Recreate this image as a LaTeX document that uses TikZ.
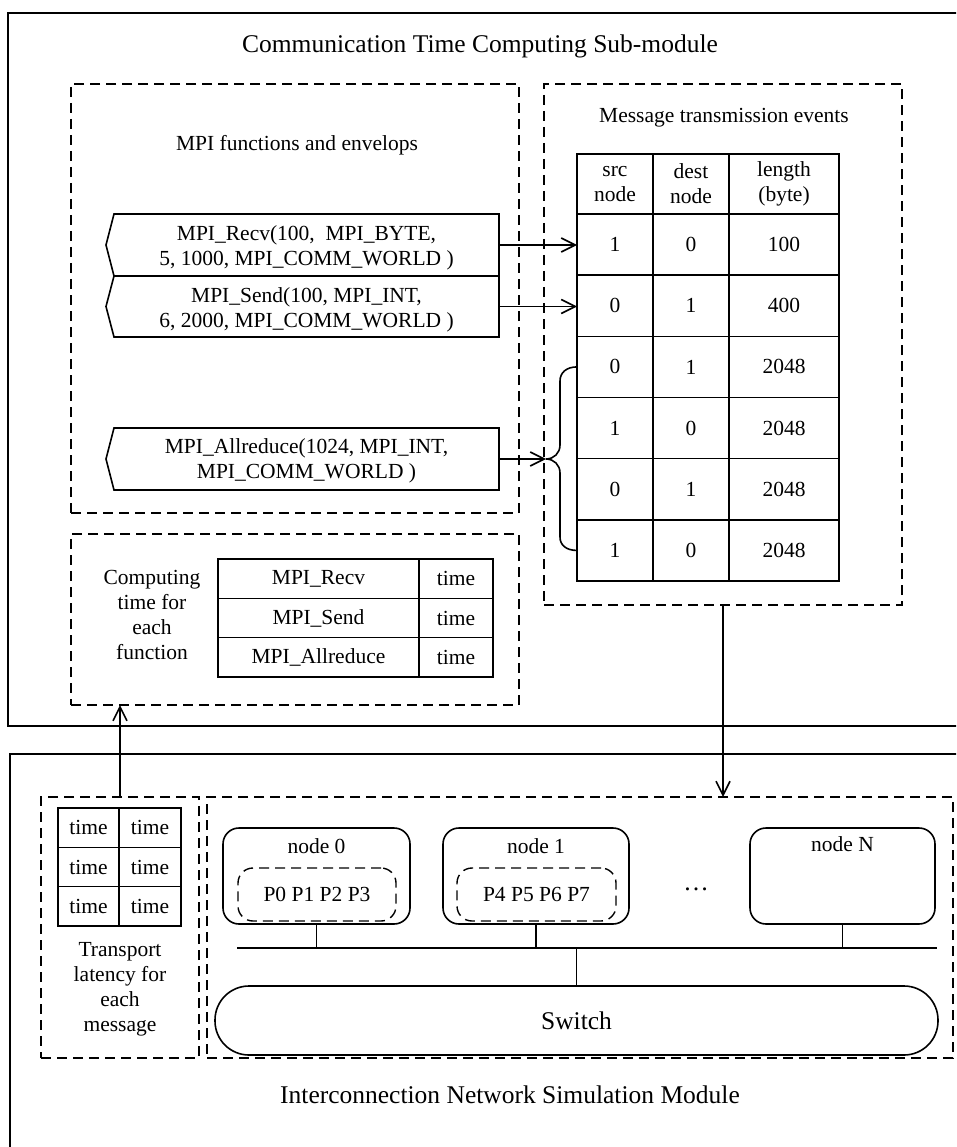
\documentclass[tikz,border=0pt]{standalone}
\usepackage{fontspec}
\setmainfont{Liberation Serif}
\usetikzlibrary{arrows.meta}
\newcommand{\smallfs}{\fontsize{21.5}{25}\selectfont}
\newcommand{\bigfs}{\fontsize{25.5}{30}\selectfont}
\begin{document}
\begin{tikzpicture}[x=1pt,y=-1pt,
  every node/.style={font=\smallfs, inner sep=0pt, outer sep=0pt, align=center},
  lw/.style={line width=1.6pt},
  outer/.style={line width=1.7pt},
  cell/.style={draw, line width=1.6pt},
  dbox/.style={draw, line width=1.4pt, dash pattern=on 10pt off 6pt},
  rnode/.style={draw, line width=1.6pt, rounded corners=16pt},
  inbox/.style={draw, line width=1.4pt, dash pattern=on 10pt off 6pt, rounded corners=15pt},
  arr/.style={line width=1.6pt, -{Straight Barb[length=14pt,width=14pt,line width=1.6pt]}},
  fshape/.style={minimum width=385pt, minimum height=62pt}
]
\useasboundingbox (0,0) rectangle (956,1147);
\clip (0,0) rectangle (956,1147);

% ---------- top module ----------
\draw[outer] (8,13) rectangle (980,726);
\node[font=\bigfs] (toptitle) at (480,46) {Communication Time Computing Sub-module};

\node[dbox, minimum width=448pt, minimum height=429pt] (mpibox) at (295,298.5) {};
\node (mpititle) at (297,145) {MPI functions and envelops};

\node[dbox, minimum width=358pt, minimum height=521pt] (msgbox) at (723,344.5) {};
\node (msgtitle) at (724,118) {Message transmission events};

% message table
\node[cell, minimum width=76pt, minimum height=60pt] (h1) at (615,184) {src\\node};
\node[cell, minimum width=76pt, minimum height=60pt] (h2) at (691,184) {dest\\node};
\node[cell, minimum width=110pt, minimum height=60pt] (h3) at (784,184) {length\\(byte)};
\foreach \i/\a/\b/\c in {1/1/0/100, 2/0/1/400, 3/0/1/2048, 4/1/0/2048, 5/0/1/2048, 6/1/0/2048}{
  \pgfmathsetmacro{\yy}{214+61.17*(\i-0.5)}
  \node[cell, minimum width=76pt, minimum height=61.17pt] (m-\i-1) at (615,\yy) {\a};
  \node[cell, minimum width=76pt, minimum height=61.17pt] (m-\i-2) at (691,\yy) {\b};
  \node[cell, minimum width=110pt, minimum height=61.17pt] (m-\i-3) at (784,\yy) {\c};
}

% MPI function shapes
\node[fshape] (recv) at (306.5,245) {};
\draw[lw] (recv.north east) -- (recv.north west) -- ([xshift=-8pt]recv.west) -- (recv.south west) -- (recv.south east) -- cycle;
\node (recvt) at ([yshift=-3pt]recv.center) {MPI\_Recv(100,\ \ MPI\_BYTE,\\5, 1000, MPI\_COMM\_WORLD )};

\node[fshape, minimum height=61pt] (send) at (306.5,306.5) {};
\draw[lw] (send.north east) -- (send.north west) -- ([xshift=-8pt]send.west) -- (send.south west) -- (send.south east) -- cycle;
\node (sendt) at ([yshift=-3pt]send.center) {MPI\_Send(100, MPI\_INT,\\6, 2000, MPI\_COMM\_WORLD )};

\node[fshape] (allr) at (306.5,459) {};
\draw[lw] (allr.north east) -- (allr.north west) -- ([xshift=-8pt]allr.west) -- (allr.south west) -- (allr.south east) -- cycle;
\node (allrt) at ([yshift=-2pt]allr.center) {MPI\_Allreduce(1024, MPI\_INT,\\MPI\_COMM\_WORLD )};

% arrows to table
\draw[arr] (recv.east) -- (recv.east -| m-1-1.west);
\draw[arr] (send.east) -- (send.east -| m-2-1.west);
\coordinate (tip) at (546,459);
\draw[arr] (allr.east) -- (tip);
% brace
\draw[lw] (m-3-1.west) .. controls (566,366.9) and (560,373) .. (560,381)
  -- (560,445) .. controls (560,453) and (554,459) .. (tip)
  .. controls (554,459) and (560,465) .. (560,473)
  -- (560,537) .. controls (560,545) and (566,550.4) .. (m-6-1.west);

% computing time box
\node[dbox, minimum width=448pt, minimum height=171pt] (compbox) at (295,619.5) {};
\node (comptext) at (152,615) {Computing\\time for\\each\\function};
\foreach \i/\f in {1/MPI\_Recv, 2/MPI\_Send, 3/MPI\_Allreduce}{
  \pgfmathsetmacro{\yy}{559+39.33*(\i-0.5)}
  \node[cell, minimum width=201pt, minimum height=39.33pt] (c-\i-1) at (318.5,\yy) {\f};
  \node[cell, minimum width=74pt, minimum height=39.33pt] (c-\i-2) at (456,\yy) {time};
}

% ---------- bottom module ----------
\draw[outer] (10,754) rectangle (980,1180);
\node[font=\bigfs] (bottitle) at (510,1095) {Interconnection Network Simulation Module};

\node[dbox, minimum width=158pt, minimum height=261pt] (tranbox) at (120,927.5) {};
\foreach \i in {1,2,3}{
  \pgfmathsetmacro{\yy}{808+39.33*(\i-0.5)}
  \node[cell, minimum width=61pt, minimum height=39.33pt] (t-\i-1) at (88.5,\yy) {time};
  \node[cell, minimum width=62pt, minimum height=39.33pt] (t-\i-2) at (150,\yy) {time};
}
\node (trantext) at (120,989) {Transport\\latency for\\each\\message};

\node[dbox, minimum width=746pt, minimum height=261pt] (netbox) at (580,927.5) {};

\node[rnode, minimum width=187pt, minimum height=96pt] (n0) at (316.5,876) {};
\node (n0l) at (316.5,846) {node 0};
\node[inbox, minimum width=158pt, minimum height=53pt] (p0) at (317,894.5) {P0 P1 P2 P3};

\node[rnode, minimum width=186pt, minimum height=96pt] (n1) at (536,876) {};
\node (n1l) at (536,846) {node 1};
\node[inbox, minimum width=159pt, minimum height=53pt] (p1) at (536.5,894.5) {P4 P5 P6 P7};

\node[font=\bigfs] (dots) at (696,889) {\textellipsis};

\node[rnode, minimum width=185pt, minimum height=96pt] (nN) at (842.5,876) {};
\node (nNl) at (842.5,844) {node N};

\coordinate (busL) at (237,948);
\coordinate (busR) at (937,948);
\draw[lw] (busL) -- (busR);
\draw[lw] (n0.south) -- (n0.south |- busL);
\draw[lw] (n1.south) -- (n1.south |- busL);
\draw[lw] (nN.south) -- (nN.south |- busL);

\node[draw, line width=1.6pt, rounded corners=34pt, minimum width=723pt, minimum height=69pt, font=\bigfs] (switch) at (576.5,1020.5) {Switch};
\draw[lw] (switch.north |- busL) -- (switch.north);

% inter-module arrows
\draw[arr] (msgbox.south) -- (msgbox.south |- netbox.north);
\draw[arr] (tranbox.north) -- (tranbox.north |- compbox.south);
\end{tikzpicture}
\end{document}
